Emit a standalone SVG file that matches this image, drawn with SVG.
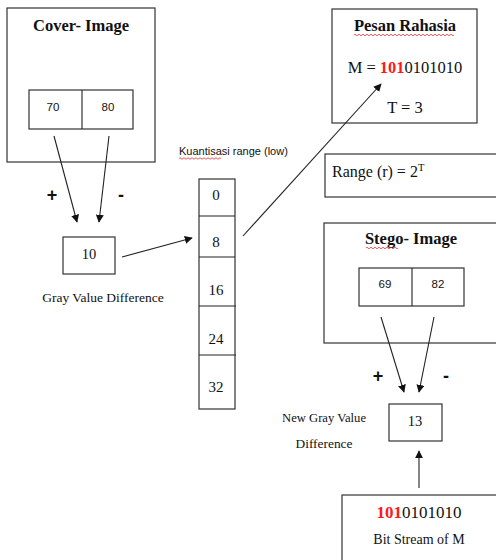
<svg xmlns="http://www.w3.org/2000/svg" width="496" height="560" viewBox="0 0 496 560">
  <style>
    .box { fill: #fff; stroke: #333; stroke-width: 1.2; }
    .cell { fill: #fff; stroke: #333; stroke-width: 1.2; }
    .serif { font-family: "Liberation Serif", "Times New Roman", serif; fill: #111; }
    .sans { font-family: "Liberation Sans", Arial, sans-serif; fill: #111; }
    .title { font-size: 16.5px; font-weight: bold; }
    .red { fill: #ff1a1a; font-weight: bold; }
    .conn { stroke: #222; stroke-width: 1.1; fill: none; marker-end: url(#arrow); }
    .plain { stroke: #222; stroke-width: 1.1; fill: none; }
    .squiggle { stroke: #e03030; stroke-width: 0.8; fill: none; }
  </style>
  <defs>
    <marker id="arrow" viewBox="0 0 10 10" refX="9" refY="5" markerWidth="8" markerHeight="8" markerUnits="userSpaceOnUse" orient="auto">
      <path d="M0,0 L10,5 L0,10 z" fill="#111"/>
    </marker>
  </defs>

  <rect width="496" height="560" fill="#fff"/>

  <!-- Cover image with its two pixels -->
  <g id="cover-image">
    <rect class="box" x="7" y="8" width="148" height="154"/>
    <text class="serif title" x="81" y="31" text-anchor="middle">Cover- Image</text>
    <rect class="cell" x="29" y="90" width="104" height="39"/>
    <line class="plain" x1="82" y1="90" x2="82" y2="129"/>
    <text class="sans" x="53" y="111" font-size="11.5" text-anchor="middle">70</text>
    <text class="sans" x="108" y="111" font-size="11.5" text-anchor="middle">80</text>
  </g>

  <g id="cover-signs">
    <text class="sans" x="52" y="201" font-size="18" font-weight="bold" text-anchor="middle">+</text>
    <text class="sans" x="121" y="201" font-size="18" font-weight="bold" text-anchor="middle">-</text>
  </g>

  <!-- Gray value difference -->
  <g id="difference">
    <rect class="box" x="63" y="237" width="52" height="37"/>
    <text class="serif" x="89" y="259" font-size="14.5" text-anchor="middle">10</text>
    <text class="serif" x="103" y="302" font-size="13.5" text-anchor="middle">Gray Value Difference</text>
  </g>

  <!-- Quantisation range table -->
  <g id="range-table">
    <text class="sans" x="179" y="155" font-size="11">Kuantisasi range (low)</text>
    <path class="squiggle" d="M179,158.5 q1,-1.5 2,0 t2,0 t2,0 t2,0 t2,0 t2,0 t2,0 t2,0 t2,0 t2,0 t2,0 t2,0 t2,0 t2,0 t2,0 t2,0 t2,0 t2,0 t2,0 t2,0 t2,0"/>
    <rect class="cell" x="199" y="179" width="36" height="230"/>
    <line class="plain" x1="199" y1="216" x2="235" y2="216"/>
    <line class="plain" x1="199" y1="257" x2="235" y2="257"/>
    <line class="plain" x1="199" y1="306" x2="236" y2="306"/>
    <line class="plain" x1="199" y1="355" x2="236" y2="355"/>
    <text class="serif" x="216" y="200" font-size="15" text-anchor="middle">0</text>
    <text class="serif" x="216" y="247" font-size="15" text-anchor="middle">8</text>
    <text class="serif" x="216" y="295" font-size="15" text-anchor="middle">16</text>
    <text class="serif" x="216" y="344" font-size="15" text-anchor="middle">24</text>
    <text class="serif" x="216" y="392" font-size="15" text-anchor="middle">32</text>
  </g>

  <!-- Secret message -->
  <g id="secret-message">
    <rect class="box" x="332" y="9" width="145" height="114"/>
    <text class="serif title" x="405" y="31" text-anchor="middle">Pesan Rahasia</text>
    <path class="squiggle" d="M354,35 q1,-1.5 2,0 t2,0 t2,0 t2,0 t2,0 t2,0 t2,0 t2,0 t2,0 t2,0 t2,0 t2,0 t2,0 t2,0 t2,0 t2,0 t2,0 t2,0 t2,0 t2,0 t2,0 t2,0 t2,0 t2,0 t2,0 t2,0 t2,0 t2,0 t2,0 t2,0 t2,0 t2,0 t2,0 t2,0 t2,0 t2,0 t2,0 t2,0 t2,0 t2,0 t2,0 t2,0 t2,0 t2,0 t2,0 t2,0 t2,0 t2,0 t2,0 t2,0"/>
    <text class="serif" x="405" y="73" font-size="16.5" text-anchor="middle">M = <tspan class="red">101</tspan>0101010</text>
    <text class="serif" x="405" y="113" font-size="16.5" text-anchor="middle">T = 3</text>
  </g>

  <!-- Range formula -->
  <g id="range-formula">
    <rect class="box" x="325" y="154" width="180" height="43"/>
    <text class="serif" x="332" y="177" font-size="16">Range (r) = 2<tspan font-size="10.5" dy="-6">T</tspan></text>
  </g>

  <!-- Stego image with its two pixels -->
  <g id="stego-image">
    <rect class="box" x="324" y="223" width="180" height="120"/>
    <text class="serif title" x="411" y="244" text-anchor="middle">Stego- Image</text>
    <path class="squiggle" d="M366,248 q1,-1.5 2,0 t2,0 t2,0 t2,0 t2,0 t2,0 t2,0 t2,0 t2,0 t2,0 t2,0 t2,0 t2,0 t2,0 t2,0 t2,0"/>
    <rect class="cell" x="359" y="268" width="105" height="38"/>
    <line class="plain" x1="412" y1="268" x2="412" y2="306"/>
    <text class="sans" x="385" y="288" font-size="11.5" text-anchor="middle">69</text>
    <text class="sans" x="438" y="288" font-size="11.5" text-anchor="middle">82</text>
  </g>

  <g id="stego-signs">
    <text class="sans" x="378" y="382" font-size="18" font-weight="bold" text-anchor="middle">+</text>
    <text class="sans" x="446" y="382" font-size="18" font-weight="bold" text-anchor="middle">-</text>
  </g>

  <!-- New gray value difference -->
  <g id="new-difference">
    <rect class="box" x="389" y="404" width="53" height="37"/>
    <text class="serif" x="415" y="426" font-size="14.5" text-anchor="middle">13</text>
    <text class="serif" x="324" y="422" font-size="13" text-anchor="middle" textLength="84" lengthAdjust="spacingAndGlyphs">New Gray Value</text>
    <text class="serif" x="324" y="448" font-size="13" text-anchor="middle" textLength="57" lengthAdjust="spacingAndGlyphs">Difference</text>
  </g>

  <!-- Bit stream of the message -->
  <g id="bit-stream">
    <rect class="box" x="342" y="495" width="170" height="80"/>
    <text class="serif" x="419" y="518" font-size="17" text-anchor="middle"><tspan class="red">101</tspan>0101010</text>
    <text class="serif" x="419" y="544" font-size="14" text-anchor="middle">Bit Stream of M</text>
  </g>

  <!-- Connectors -->
  <g id="connectors">
    <line class="conn" x1="54" y1="136" x2="77" y2="222"/>
    <line class="conn" x1="109" y1="136" x2="99" y2="222"/>
    <line class="conn" x1="122" y1="257" x2="192" y2="238"/>
    <line class="conn" x1="243" y1="236" x2="381" y2="84"/>
    <line class="conn" x1="381" y1="317" x2="404" y2="392"/>
    <line class="conn" x1="434" y1="317" x2="419" y2="392"/>
    <line class="conn" x1="419" y1="488" x2="419" y2="451"/>
  </g>
</svg>
